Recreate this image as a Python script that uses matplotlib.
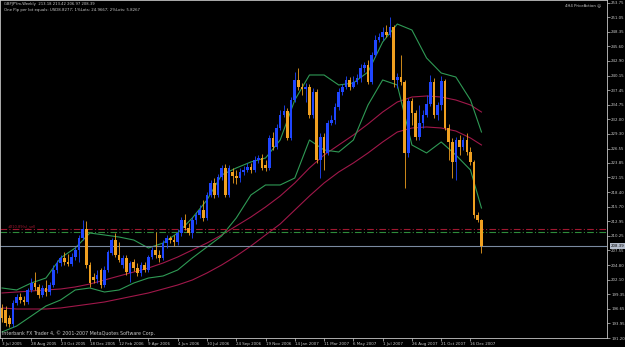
import numpy as np
import matplotlib.pyplot as plt
import matplotlib.transforms as mtransforms

plt.rcParams['font.family'] = ['DejaVu Sans']

# weekly GBPJPY candles, 3 Jul 2005 .. end of Dec 2007
opens = [196.80, 196.42, 194.93, 193.81, 197.73, 198.85, 198.29, 197.92, 200.16, 201.46,
         200.72, 199.22, 200.53, 199.78, 201.09, 203.89, 205.19, 206.13, 205.38, 205.01,
         206.31, 207.62, 209.86, 211.54, 204.82, 202.58, 202.21, 203.89, 201.09, 203.89,
         207.06, 209.48, 206.69, 204.82, 206.13, 203.33, 205.38, 204.26, 203.33, 204.82,
         203.89, 206.31, 207.62, 206.69, 206.13, 208.92, 209.86, 209.48, 209.11, 210.79,
         213.22, 211.72, 210.79, 213.22, 214.15, 215.08, 213.59, 217.88, 220.12, 217.88,
         221.24, 222.92, 217.88, 222.17, 221.42, 221.05, 222.17, 222.54, 223.10, 222.54,
         224.41, 224.78, 223.48, 222.92, 228.51, 226.83, 230.38, 232.81, 233.55, 228.51,
         235.60, 239.34, 238.03, 237.66, 238.03, 232.81, 237.10, 224.41, 228.70, 225.72,
         231.31, 231.87, 234.30, 237.10, 238.03, 239.34, 238.03, 238.96, 239.71, 241.57,
         242.13, 238.96, 244.00, 246.80, 247.36, 248.29, 247.73, 249.22, 239.34, 239.89,
         238.96, 225.72, 235.42, 233.18, 228.70, 231.31, 232.81, 234.86, 238.96, 232.81,
         234.67, 239.15, 230.38, 227.77, 224.04, 228.14, 226.83, 228.14, 225.90, 224.04,
         214.15, 213.18]
highs = [197.54, 197.17, 195.49, 198.29, 199.41, 199.60, 199.04, 200.53, 202.39, 203.51,
         201.27, 201.09, 202.02, 201.65, 204.82, 205.75, 206.69, 207.24, 206.87, 207.06,
         208.18, 210.42, 213.22, 213.03, 205.38, 203.33, 203.89, 204.26, 204.63, 207.62,
         209.86, 210.79, 209.11, 206.69, 206.69, 205.57, 205.94, 205.19, 205.38, 205.38,
         206.69, 208.18, 210.98, 207.62, 209.48, 210.42, 210.23, 210.42, 211.54, 213.77,
         214.33, 212.66, 213.77, 214.71, 216.01, 216.95, 218.44, 220.68, 221.05, 221.80,
         223.48, 223.66, 223.48, 222.92, 222.54, 222.92, 223.29, 223.85, 223.85, 225.16,
         225.34, 225.53, 224.41, 229.07, 229.63, 231.13, 233.74, 234.67, 234.11, 236.16,
         240.83, 241.57, 238.78, 238.78, 238.59, 237.84, 237.66, 229.45, 229.45, 231.87,
         232.81, 235.04, 237.84, 238.59, 240.08, 239.89, 240.08, 240.45, 242.32, 242.69,
         243.07, 244.56, 247.73, 248.10, 249.22, 249.60, 251.09, 249.60, 240.64, 244.00,
         239.34, 235.98, 235.98, 233.74, 234.67, 233.74, 236.54, 240.27, 239.71, 235.23,
         240.08, 239.52, 231.13, 228.51, 228.70, 229.07, 228.70, 229.45, 226.83, 224.41,
         214.71, 213.42]
lows = [194.19, 193.44, 193.25, 193.25, 197.36, 197.73, 197.36, 197.54, 199.78, 200.16,
        198.66, 198.85, 199.04, 199.22, 200.72, 203.33, 204.63, 204.82, 204.63, 204.63,
        205.75, 205.38, 209.48, 204.26, 200.72, 201.46, 201.46, 200.53, 200.72, 203.51,
        206.69, 206.31, 205.38, 204.26, 202.95, 201.65, 203.70, 202.77, 202.77, 203.51,
        203.51, 205.94, 206.13, 205.38, 205.75, 207.99, 208.92, 208.36, 208.55, 210.23,
        211.35, 210.42, 209.86, 212.47, 213.59, 213.03, 213.22, 217.51, 217.32, 217.51,
        220.68, 217.51, 217.51, 220.12, 219.93, 220.31, 221.61, 222.17, 221.98, 222.17,
        223.85, 222.54, 222.36, 222.54, 226.28, 226.46, 230.01, 232.43, 228.14, 228.14,
        235.23, 237.47, 236.54, 235.23, 232.25, 232.25, 223.85, 221.05, 222.54, 225.34,
        230.94, 231.13, 233.74, 236.54, 237.66, 237.47, 237.84, 238.59, 238.96, 240.83,
        238.59, 238.59, 243.63, 246.42, 246.80, 247.36, 247.36, 238.03, 237.84, 238.40,
        219.19, 224.97, 230.94, 228.14, 228.14, 230.38, 232.43, 234.48, 232.25, 231.87,
        233.74, 230.01, 224.41, 221.05, 220.68, 225.34, 226.28, 225.34, 223.48, 213.59,
        212.84, 206.97]
closes = [194.93, 194.00, 193.81, 197.73, 198.85, 198.29, 197.92, 200.16, 201.46, 200.72,
          199.22, 200.53, 199.78, 201.09, 203.89, 205.19, 206.13, 205.38, 205.01, 206.31,
          207.62, 209.86, 211.54, 204.82, 201.46, 202.02, 202.95, 201.09, 203.89, 207.24,
          209.48, 206.69, 205.75, 206.13, 203.51, 205.19, 204.26, 203.33, 204.82, 203.89,
          206.31, 207.62, 206.69, 206.13, 208.92, 209.86, 209.48, 209.11, 210.79, 213.22,
          211.72, 210.79, 213.22, 214.15, 215.08, 213.59, 217.88, 220.12, 217.88, 221.24,
          222.92, 217.88, 222.92, 221.42, 221.05, 222.17, 222.54, 223.10, 222.54, 224.41,
          224.78, 222.92, 222.92, 228.51, 226.83, 230.38, 232.81, 233.55, 228.51, 235.60,
          239.34, 238.03, 237.66, 238.03, 232.81, 237.10, 224.41, 228.70, 225.72, 231.31,
          231.87, 234.30, 237.10, 238.03, 239.34, 238.03, 238.96, 239.71, 241.57, 242.13,
          238.96, 244.00, 246.80, 247.36, 248.29, 247.73, 249.22, 239.34, 239.89, 238.96,
          225.72, 235.42, 233.18, 228.70, 231.31, 232.81, 234.86, 238.96, 232.81, 234.67,
          239.15, 230.38, 227.77, 224.04, 228.14, 226.83, 228.14, 225.90, 224.04, 214.15,
          213.20, 208.39]

# indicator lines every 4th bar
band_bars = [0, 4, 8, 12, 16, 20, 24, 28, 32, 36, 40, 44, 48, 52, 56, 60, 64, 68, 72, 76,
             80, 84, 88, 92, 96, 100, 104, 108, 112, 116, 120, 124, 128, 131]
green_upper = [200.53, 200.16, 201.46, 202.39, 206.13, 207.99, 210.79, 210.42, 210.04, 209.48,
               207.99, 208.92, 210.79, 213.59, 216.95, 221.61, 222.92, 224.04, 224.78, 228.14,
               235.60, 240.27, 240.27, 238.40, 238.78, 240.83, 246.42, 249.78, 248.66, 243.44,
               240.64, 239.89, 235.60, 229.63]
green_lower = [192.32, 193.44, 195.30, 197.17, 198.29, 200.16, 200.53, 199.78, 200.16, 201.46,
               202.39, 202.77, 203.89, 206.13, 208.18, 210.23, 213.59, 217.88, 219.75, 219.75,
               221.05, 228.14, 226.28, 225.90, 228.14, 234.67, 239.34, 238.40, 227.21, 225.72,
               227.77, 225.34, 222.54, 215.45]
red_upper = [199.60, 199.78, 199.97, 200.16, 200.34, 200.72, 201.27, 202.02, 202.77, 203.51,
             204.26, 205.19, 206.31, 207.62, 208.92, 210.42, 212.10, 213.77, 215.64, 217.69,
             220.12, 222.92, 225.34, 227.21, 229.07, 231.13, 233.36, 235.23, 236.16, 236.35,
             236.16, 235.60, 234.67, 233.36]
red_lower = [196.80, 196.61, 196.61, 196.61, 196.80, 197.17, 197.54, 197.92, 198.48, 199.04,
             199.60, 200.34, 201.09, 202.02, 203.33, 204.82, 206.50, 208.36, 210.42, 212.47,
             215.08, 217.69, 220.12, 222.17, 223.85, 225.72, 227.77, 229.63, 230.38, 230.57,
             230.38, 229.82, 228.51, 227.21]

date_labels = ['3 Jul 2005', '28 Aug 2005', '23 Oct 2005', '18 Dec 2005', '12 Feb 2006',
               '9 Apr 2006', '4 Jun 2006', '30 Jul 2006', '24 Sep 2006', '19 Nov 2006',
               '14 Jan 2007', '11 Mar 2007', '6 May 2007', '1 Jul 2007', '26 Aug 2007',
               '21 Oct 2007', '16 Dec 2007']
price_ticks = [191.20, 193.95, 196.65, 199.35, 202.10, 204.80, 207.55, 210.25, 212.95, 215.70,
               218.40, 221.15, 223.85, 226.55, 229.30, 232.00, 234.75, 237.45, 240.15, 242.90,
               245.60, 248.35, 251.05, 253.75]
last_price = 208.39
sell_level = 211.48
buy_level = 210.92

fg = '#c8c8c8'
fig = plt.figure(figsize=(6.25, 3.47), dpi=100, facecolor='black')
ax = fig.add_axes([0, 9 / 347, 607 / 625, 338 / 347], facecolor='black')

o = np.array(opens)
h = np.array(highs)
l = np.array(lows)
c = np.array(closes)
x = np.arange(len(c))
up = c >= o
bull = '#1f46ff'
bear = '#f0a020'
cols = np.where(up, bull, bear)

ax.plot(band_bars, red_upper, color='#a0184a', lw=0.8)
ax.plot(band_bars, red_lower, color='#a0184a', lw=0.8)
ax.plot(band_bars, green_upper, color='#2f9a55', lw=0.8)
ax.plot(band_bars, green_lower, color='#2f9a55', lw=0.8)

ax.vlines(x, l, h, colors=cols, lw=0.6, zorder=3)
ax.bar(x, np.abs(c - o) + 0.08, bottom=np.minimum(o, c), width=0.72, color=cols,
       linewidth=0, zorder=4)

ax.axhline(sell_level, color='#a01830', lw=0.8, ls=(0, (6, 2, 1, 2)), zorder=2)
ax.axhline(buy_level, color='#2e8b3a', lw=0.8, ls=(0, (6, 2, 1, 2)), zorder=2)
ax.axhline(last_price, color='#7a8aa0', lw=0.8, zorder=2)
ax.text(1.5, sell_level + 0.25, '#210.89(s)_sell', color='#a01830', fontsize=2.6,
        va='bottom', ha='left')

ax.set_xlim(-0.55, 165.3)
ax.set_ylim(191.2, 254.26)

ax.yaxis.tick_right()
ax.set_yticks(price_ticks)
ax.set_yticklabels(['%.2f' % v for v in price_ticks])
ax.set_xticks(list(range(0, 8 * len(date_labels), 8)))
ax.set_xticklabels(date_labels, ha='left')
ax.tick_params(axis='both', colors=fg, labelcolor=fg, length=2, width=0.5, pad=1)
ax.tick_params(axis='y', labelsize=2.8)
ax.tick_params(axis='x', labelsize=2.9)
for side in ['left', 'top', 'right', 'bottom']:
    ax.spines[side].set_color(fg)
    ax.spines[side].set_linewidth(0.6)

# current price box on the price scale
trans = mtransforms.blended_transform_factory(ax.transAxes, ax.transData)
ax.text(1.006, last_price, '%.2f' % last_price, transform=trans, fontsize=2.8,
        color='black', va='center', ha='left',
        bbox=dict(boxstyle='square,pad=0.2', fc='#b4bccb', ec='none'), zorder=6,
        clip_on=False)

ax.text(0.006, 0.993, 'GBPJPYm,Weekly  213.18 213.42 206.97 208.39', transform=ax.transAxes,
        color=fg, fontsize=2.7, va='top', ha='left')
ax.text(0.006, 0.975, 'One Pip per lot equals: USD8.8277; 1%Lots: 24.9667; 2%Lots: 5.8267',
        transform=ax.transAxes, color=fg, fontsize=2.8, va='top', ha='left')
ax.text(0.99, 0.99, '4H4 PriceAction \u263a', transform=ax.transAxes, color=fg,
        fontsize=2.8, va='top', ha='right')
ax.text(0.004, 0.006, 'Interbank FX Trader 4, \u00a9 2001-2007 MetaQuotes Software Corp.',
        transform=ax.transAxes, color=fg, fontsize=3.4, va='bottom', ha='left')

fig.savefig('out.png', dpi=100, facecolor='black')
